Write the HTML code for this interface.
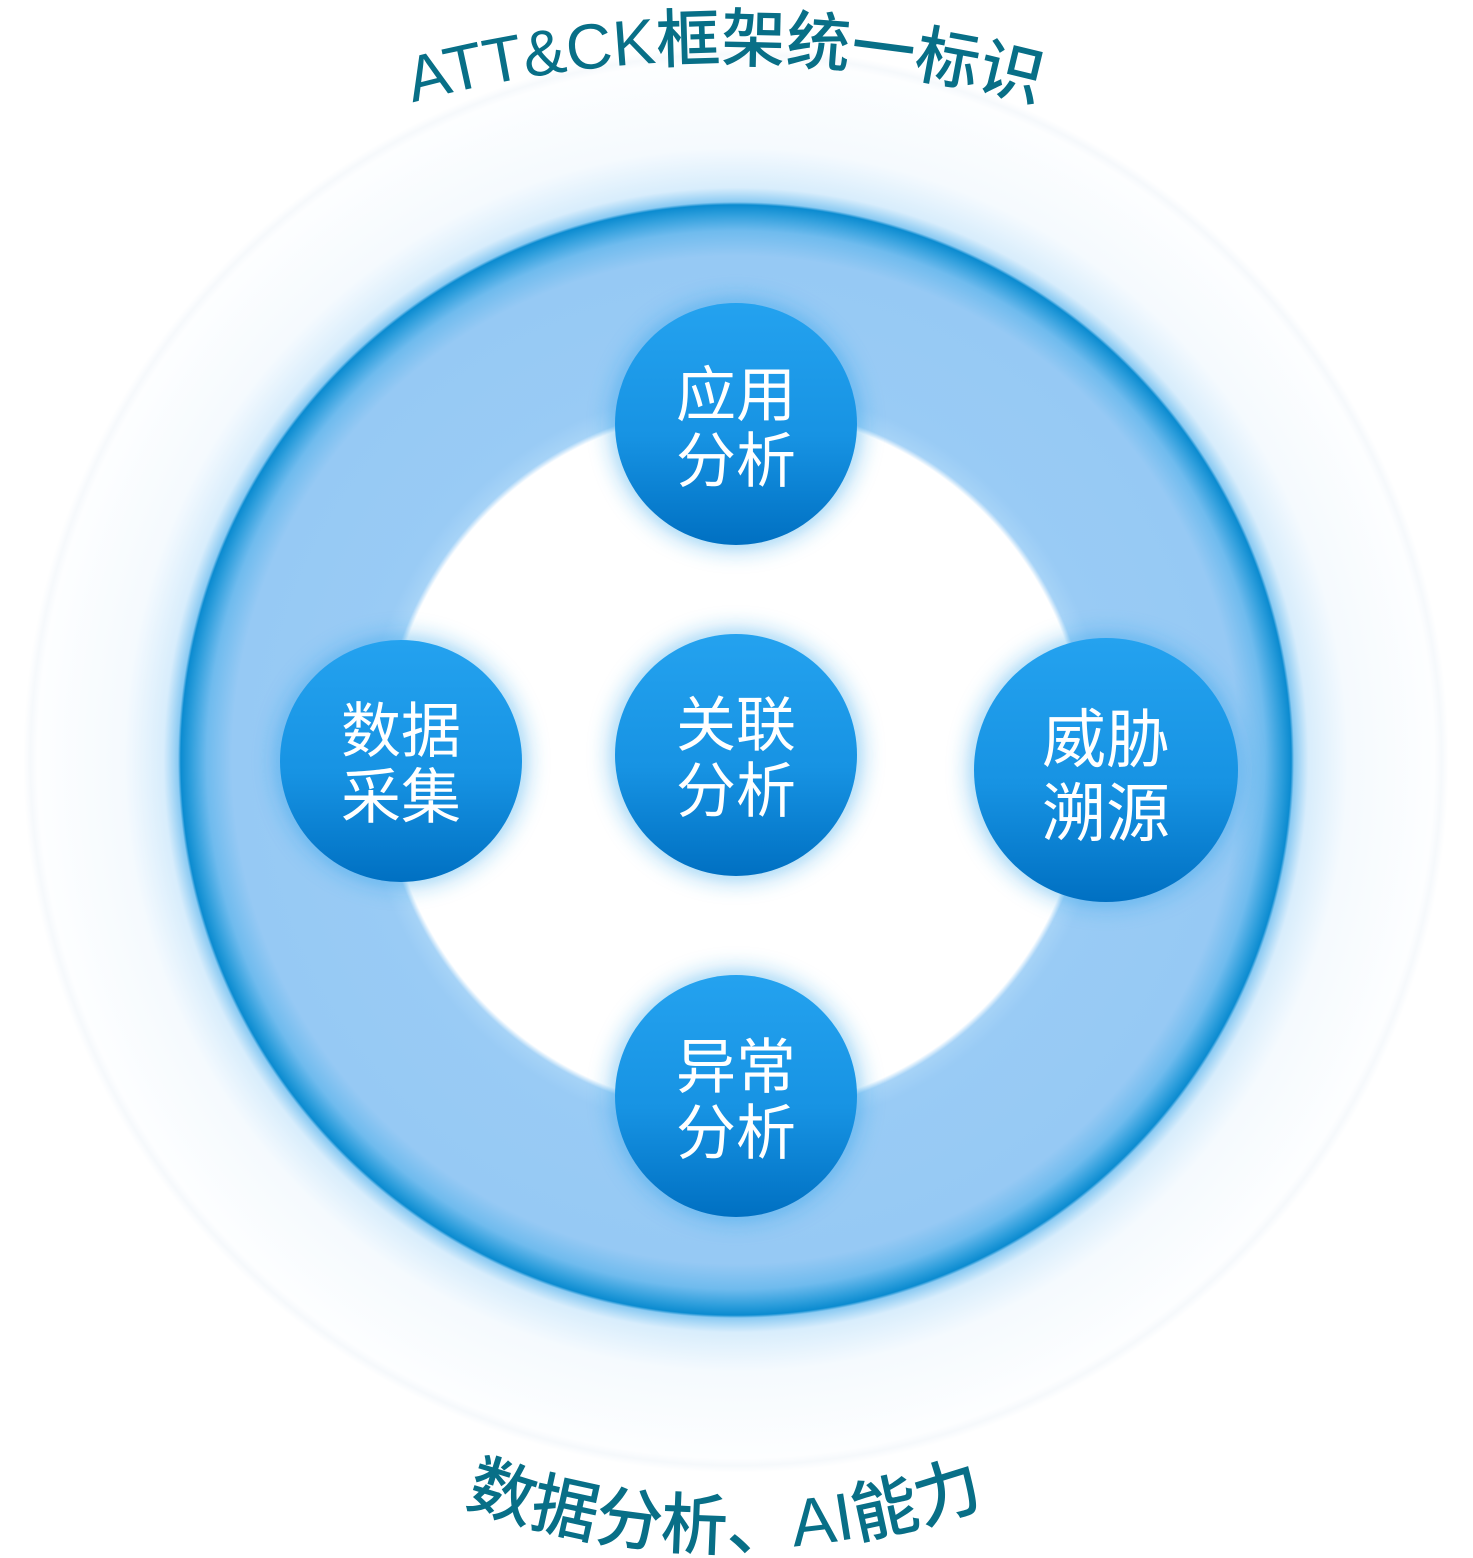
<!DOCTYPE html>
<html><head><meta charset="utf-8"><style>
html,body{margin:0;padding:0;background:#fff;}
svg{display:block}
</style></head><body>
<svg width="1473" height="1558" viewBox="0 0 1473 1558" xmlns="http://www.w3.org/2000/svg">
<defs>
<radialGradient id="ring" cx="736" cy="760" r="720" gradientUnits="userSpaceOnUse">
<stop offset="0" stop-color="#fff"/>
<stop offset="0.486" stop-color="#fff"/>
<stop offset="0.494" stop-color="#a6d3f7"/>
<stop offset="0.52" stop-color="#99cbf5"/>
<stop offset="0.70" stop-color="#96c9f4"/>
<stop offset="0.735" stop-color="#6fbbee"/>
<stop offset="0.758" stop-color="#2d9edc"/>
<stop offset="0.771" stop-color="#0b8bd0"/>
<stop offset="0.775" stop-color="#8ccbf3"/>
<stop offset="0.795" stop-color="#d8edfc"/>
<stop offset="0.85" stop-color="#f5fafe"/>
<stop offset="0.97" stop-color="#fdfeff"/>
<stop offset="0.98" stop-color="#f6f9fc"/>
<stop offset="0.99" stop-color="#fff"/>
<stop offset="1" stop-color="#fff"/>
</radialGradient>
<linearGradient id="ball" x1="0" y1="0" x2="0" y2="1">
<stop offset="0" stop-color="#24a2ef"/>
<stop offset="0.55" stop-color="#1793e3"/>
<stop offset="1" stop-color="#0070c2"/>
</linearGradient>
<filter id="glow" x="-50%" y="-50%" width="200%" height="200%">
<feGaussianBlur stdDeviation="12"/>
</filter>
<path id="topArc" d="M 360 118 A 1200 1200 0 0 1 1090 118"/>
<path id="botArc" d="M 440 1495 A 775 775 0 0 0 1010 1495"/>
</defs>
<circle cx="736" cy="760" r="720" fill="url(#ring)"/>
<g fill="#1a9be8" opacity="0.5" filter="url(#glow)">
<circle cx="736" cy="424" r="124"/>
<circle cx="401" cy="761" r="124"/>
<circle cx="736" cy="755" r="124"/>
<circle cx="736" cy="1096" r="124"/>
<circle cx="1106" cy="770" r="135"/>
</g>
<g fill="url(#ball)">
<circle cx="736" cy="424" r="121"/>
<circle cx="401" cy="761" r="121"/>
<circle cx="736" cy="755" r="121"/>
<circle cx="736" cy="1096" r="121"/>
<circle cx="1106" cy="770" r="132"/>
</g>
<g fill="#fff" font-family="Liberation Sans, Noto Sans CJK SC, sans-serif" font-size="60" text-anchor="middle">
<text x="736" y="416">应用</text><text x="736" y="482">分析</text>
<text x="401" y="752">数据</text><text x="401" y="818">采集</text>
<text x="736" y="746">关联</text><text x="736" y="812">分析</text>
<text x="736" y="1088">异常</text><text x="736" y="1154">分析</text>
<text x="1106" y="762" font-size="64">威胁</text><text x="1106" y="836" font-size="64">溯源</text>
</g>
<g fill="#086f87" font-family="Liberation Sans, Noto Sans CJK SC, sans-serif" font-size="64" font-weight="500">
<text><textPath href="#topArc" startOffset="50%" text-anchor="middle">ATT&amp;CK框架统一标识</textPath></text>
<text font-size="67"><textPath href="#botArc" startOffset="50%" text-anchor="middle">数据分析、AI能力</textPath></text>
</g>
</svg>
</body></html>
